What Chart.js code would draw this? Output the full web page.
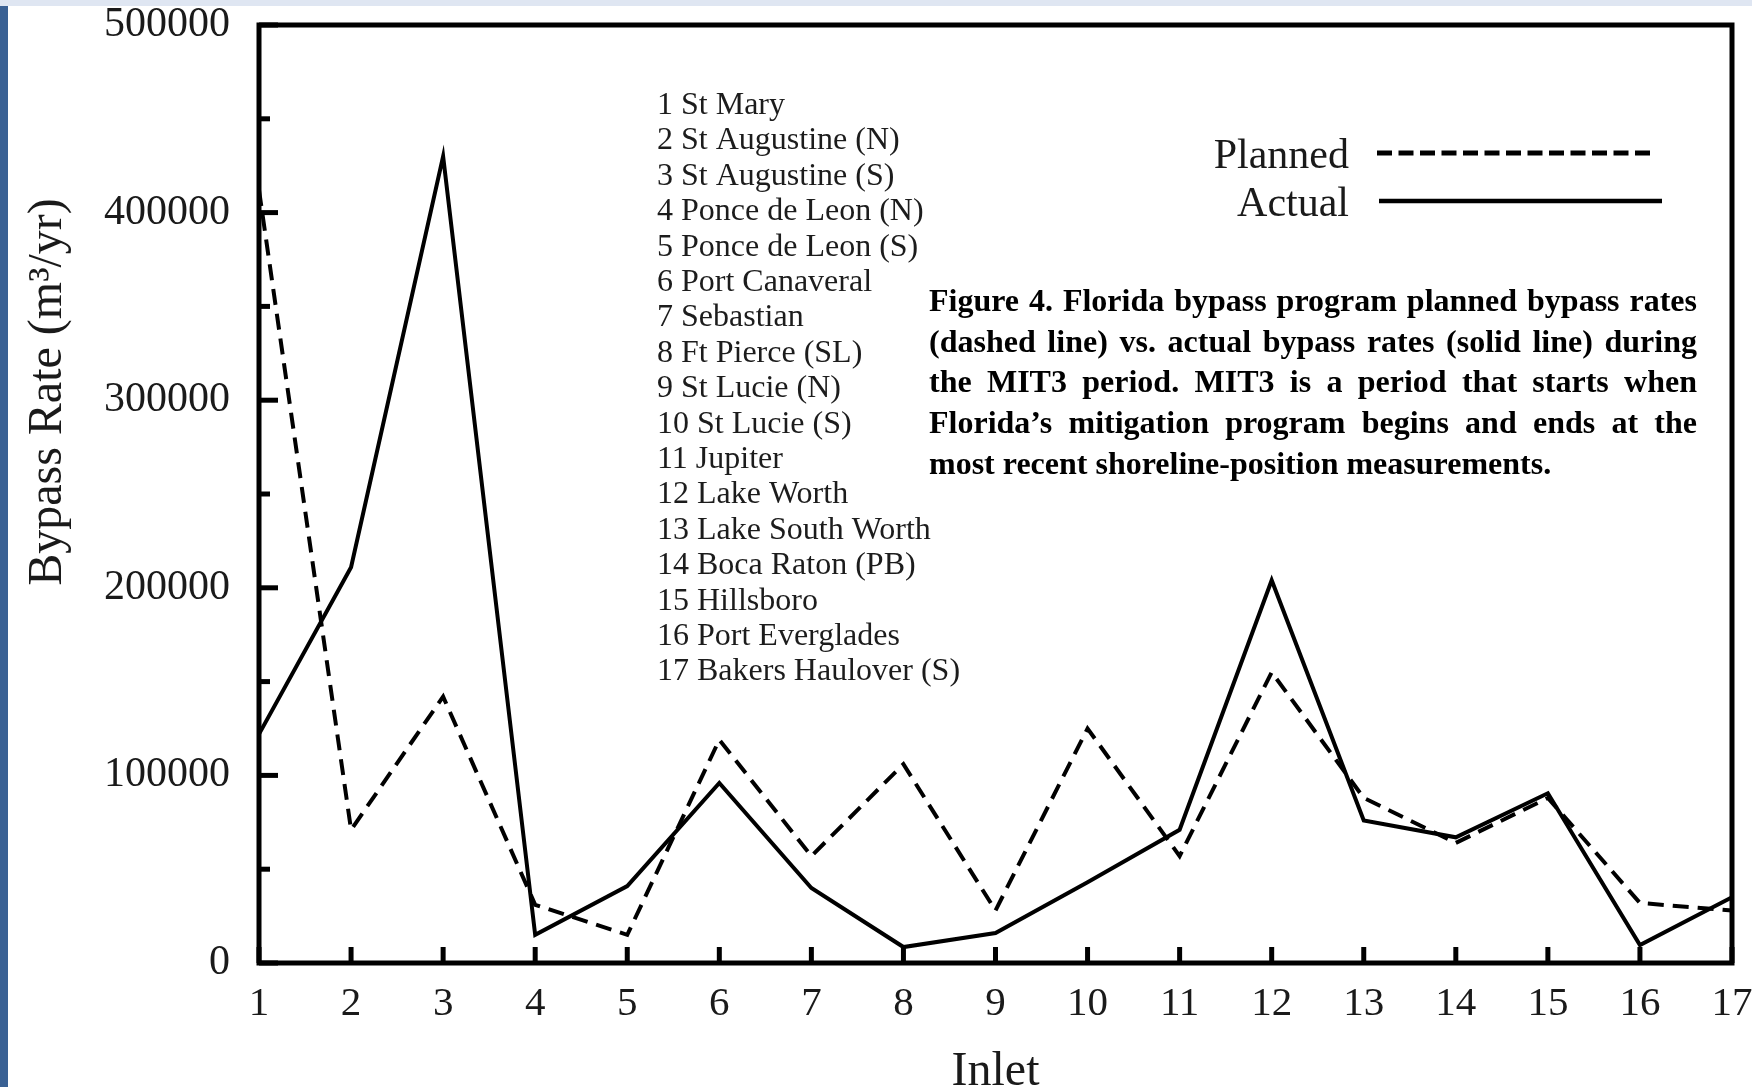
<!DOCTYPE html>
<html><head><meta charset="utf-8">
<script src="https://cdn.jsdelivr.net/npm/chart.js@4.4.1/dist/chart.umd.min.js"></script>
<style>
html,body{margin:0;padding:0;background:#fff;overflow:hidden}
#wrap{position:relative;width:1752px;height:1087px}
#band{position:absolute;left:0;top:0;width:1752px;height:6px;background:#dfe6f2}
#bar{position:absolute;left:0;top:6px;width:8px;height:1081px;background:#3a6194}
canvas{position:absolute;left:0;top:0}
</style></head><body>
<div id="wrap"><canvas id="c" width="1752" height="1087"></canvas><div id="band"></div><div id="bar"></div></div>
<script>
// ---- data ----
const categories = ['1','2','3','4','5','6','7','8','9','10','11','12','13','14','15','16','17'];
const inletNames = ['St Mary','St Augustine (N)','St Augustine (S)','Ponce de Leon (N)','Ponce de Leon (S)',
  'Port Canaveral','Sebastian','Ft Pierce (SL)','St Lucie (N)','St Lucie (S)','Jupiter','Lake Worth',
  'Lake South Worth','Boca Raton (PB)','Hillsboro','Port Everglades','Bakers Haulover (S)'];
const planned = [412000, 71000, 142000, 31000, 15000, 119000, 57000, 106000, 28000, 125000, 57000, 155000, 88000, 64000, 88000, 32000, 28000];
const actual  = [122000, 211000, 430000, 15000, 41000, 96000, 40000, 8500, 16000, 43000, 71000, 204000, 76000, 67000, 90500, 9600, 35000];
const yMajorTicks = [0, 100000, 200000, 300000, 400000, 500000];
const captionLines = [
  'Figure 4. Florida bypass program planned bypass rates',
  '(dashed line) vs. actual bypass rates (solid line) during',
  'the MIT3 period. MIT3 is a period that starts when',
  'Florida\u2019s mitigation program begins and ends at the',
  'most recent shoreline-position measurements.'
];

const SERIF = "'Liberation Serif','Times New Roman',serif";
Chart.defaults.font.family = SERIF;
Chart.defaults.color = '#1a1a1a';

function justify(ctx, text, x, y, width) {
  const words = text.split(' ');
  const ws = words.map(w => ctx.measureText(w).width);
  const total = ws.reduce((s, v) => s + v, 0);
  const gap = (width - total) / (words.length - 1);
  let cx = x;
  words.forEach((w, i) => { ctx.fillText(w, cx, y); cx += ws[i] + gap; });
}

const decor = {
  id: 'decor',
  afterDatasetsDraw(chart) {
    const {ctx, chartArea: a, scales: {x, y}} = chart;
    ctx.save();
    ctx.strokeStyle = '#000';
    ctx.lineWidth = 5;
    ctx.lineJoin = 'miter';
    ctx.strokeRect(a.left, a.top, a.right - a.left, a.bottom - a.top);
    ctx.lineCap = 'butt';
    y.ticks.forEach(t => {
      const py = y.getPixelForValue(t.value);
      const len = yMajorTicks.includes(t.value) ? 19 : 11;
      ctx.beginPath(); ctx.moveTo(a.left, py); ctx.lineTo(a.left + len, py); ctx.stroke();
    });
    x.ticks.forEach((t, i) => {
      const px = x.getPixelForTick(i);
      ctx.beginPath(); ctx.moveTo(px, a.bottom); ctx.lineTo(px, a.bottom - 16); ctx.stroke();
    });
    ctx.restore();
  },
  afterDraw(chart) {
    const ctx = chart.ctx;
    ctx.save();
    // legend (drawn from dataset styles)
    const ds = chart.data.datasets;
    ctx.font = '42px ' + SERIF;
    ctx.fillStyle = '#1a1a1a';
    ctx.textAlign = 'right';
    ctx.textBaseline = 'alphabetic';
    ctx.fillText(ds[0].label, 1349, 168);
    ctx.fillText(ds[1].label, 1349, 216);
    ctx.strokeStyle = '#000';
    ctx.lineWidth = 5;
    ctx.setLineDash([15, 6.5]);
    ctx.beginPath(); ctx.moveTo(1377, 153); ctx.lineTo(1656, 153); ctx.stroke();
    ctx.setLineDash([]);
    ctx.lineWidth = 4.5;
    ctx.beginPath(); ctx.moveTo(1379, 201); ctx.lineTo(1662, 201); ctx.stroke();
    // inlet list
    ctx.textAlign = 'left';
    ctx.font = '32px ' + SERIF;
    ctx.fillStyle = '#1c1c1c';
    categories.forEach((c, i) => {
      ctx.fillText(c + ' ' + inletNames[i], 657, 114 + i * 35.4);
    });
    // caption
    ctx.font = 'bold 32px ' + SERIF;
    ctx.fillStyle = '#000';
    captionLines.forEach((line, i) => {
      const yy = 311 + i * 40.7;
      if (i < captionLines.length - 1) justify(ctx, line, 929, yy, 1697 - 929);
      else ctx.fillText(line, 929, yy);
    });
    ctx.restore();
  }
};

new Chart(document.getElementById('c'), {
  type: 'line',
  data: {
    labels: categories,
    datasets: [
      { label: 'Planned', data: planned, borderColor: '#000', borderWidth: 4, borderDash: [16, 9],
        pointRadius: 0, tension: 0, fill: false, borderJoinStyle: 'miter', borderCapStyle: 'butt' },
      { label: 'Actual', data: actual, borderColor: '#000', borderWidth: 4,
        pointRadius: 0, tension: 0, fill: false, borderJoinStyle: 'miter' }
    ]
  },
  options: {
    responsive: false,
    animation: false,
    devicePixelRatio: 1,
    layout: { padding: { top: 25, right: 20, left: 0, bottom: 0 } },
    plugins: { legend: { display: false }, tooltip: { enabled: false } },
    scales: {
      x: {
        type: 'category',
        offset: false,
        grid: { display: false, drawTicks: false },
        border: { display: false },
        ticks: { autoSkip: false, maxRotation: 0, padding: 17, color: '#1a1a1a', font: { size: 41 } },
        title: { display: true, text: 'Inlet', color: '#1a1a1a', font: { size: 48, lineHeight: 0.625 }, padding: { top: 0, bottom: 0 } },
        afterFit(s) { s.height = 124; s.paddingLeft = 0; s.paddingRight = 0; }
      },
      y: {
        min: 0, max: 500000,
        grid: { display: false, drawTicks: false },
        border: { display: false },
        ticks: {
          stepSize: 50000, autoSkip: false, padding: 29, color: '#1a1a1a', font: { size: 42 },
          callback: v => yMajorTicks.includes(v) ? String(v) : ''
        },
        title: { display: true, text: '                 Bypass Rate (m\u00B3/yr)', color: '#1a1a1a',
          font: { size: 48 }, padding: { top: 20, bottom: 0 } },
        afterFit(s) { s.width = 259; s.paddingTop = 0; s.paddingBottom = 0; }
      }
    }
  },
  plugins: [decor]
});
</script>
</body></html>
